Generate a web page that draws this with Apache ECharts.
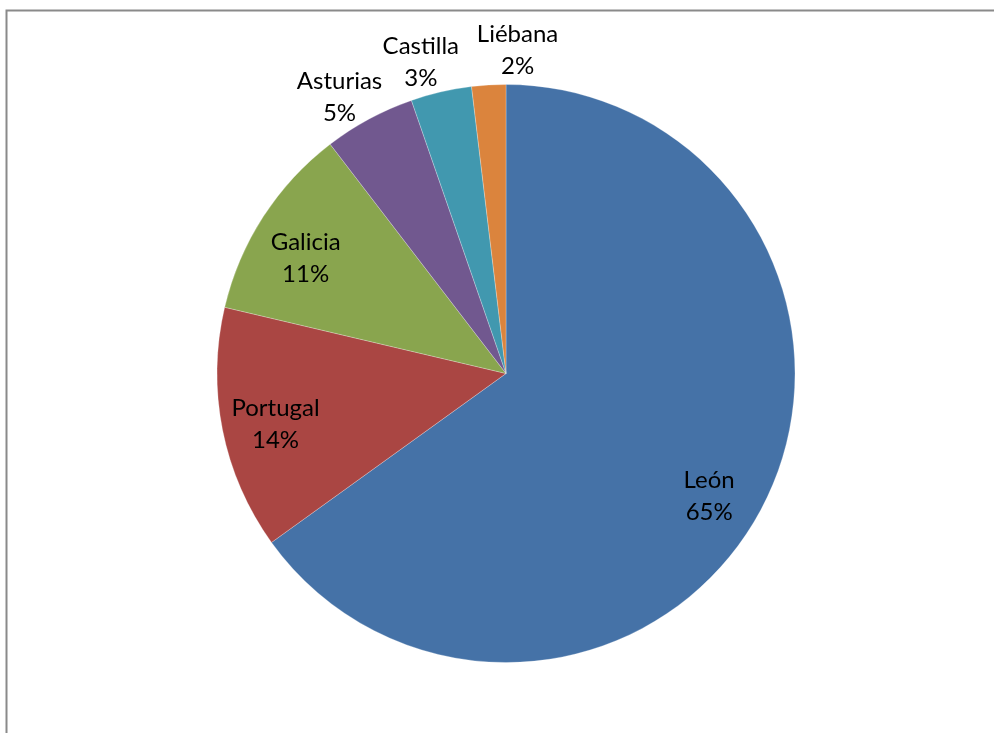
<!DOCTYPE html>
<html>
<head>
<meta charset="utf-8">
<script src="https://cdn.jsdelivr.net/npm/echarts@6/dist/echarts.min.js"></script>
<style>
html,body{margin:0;padding:0;background:#fff;}
#chart{width:994px;height:733px;}
</style>
</head>
<body>
<div id="chart"></div>
<script>
var categories = ['León', 'Portugal', 'Galicia', 'Asturias', 'Castilla', 'Liébana'];
var values = [65.0, 13.6, 10.9, 5.1, 3.4, 1.9];
var colors = ['#4572A7', '#AA4643', '#89A54E', '#71588F', '#4198AF', '#DB843D'];
var insideLabels = [true, true, true, false, false, false];

var labelShift = [[-6, 16], [0, 5], [-3, 12], [-12, 11], [-12, 6], [31, 2]];

var chart = echarts.init(document.getElementById('chart'), null, {renderer: 'canvas'});
var center = [506, 373.5];
var R = 289;

function makeData(transparent, showFn) {
  return categories.map(function (c, i) {
    var d = {name: c, value: values[i], itemStyle: {color: transparent ? 'rgba(0,0,0,0)' : colors[i]}};
    if (showFn) d.label = {show: showFn(i)};
    return d;
  });
}

var labelStyle = {
  position: 'inside',
  fontFamily: 'Lato',
  fontSize: 24,
  color: '#000',
  lineHeight: 32,
  formatter: '{b}\n{d}%'
};

function layoutFn(params) {
  var s = labelShift[params.dataIndex];
  return {dx: s[0], dy: s[1]};
}

chart.setOption({
  animation: false,
  graphic: [{
    type: 'rect',
    shape: {x: 6.5, y: 10.5, width: 1100, height: 900},
    style: {fill: 'none', stroke: '#8a8a8a', lineWidth: 2},
    silent: true
  }],
  series: [
    {
      type: 'pie',
      center: center,
      radius: [0, R],
      startAngle: 90,
      clockwise: true,
      avoidLabelOverlap: false,
      label: {show: false},
      labelLine: {show: false},
      emphasis: {disabled: true},
      silent: true,
      itemStyle: {borderColor: 'rgba(255,255,255,0.5)', borderWidth: 0.5},
      data: makeData(false)
    },
    {
      type: 'pie',
      center: center,
      radius: [175, R],
      startAngle: 90,
      clockwise: true,
      percentPrecision: 0,
      avoidLabelOverlap: false,
      label: labelStyle,
      labelLine: {show: false},
      labelLayout: layoutFn,
      emphasis: {disabled: true},
      silent: true,
      data: makeData(true, function (i) { return insideLabels[i]; })
    },
    {
      type: 'pie',
      center: center,
      radius: [R, 357],
      startAngle: 90,
      clockwise: true,
      percentPrecision: 0,
      avoidLabelOverlap: false,
      label: labelStyle,
      labelLine: {show: false},
      labelLayout: layoutFn,
      emphasis: {disabled: true},
      silent: true,
      data: makeData(true, function (i) { return !insideLabels[i]; })
    }
  ]
});
</script>
</body>
</html>
